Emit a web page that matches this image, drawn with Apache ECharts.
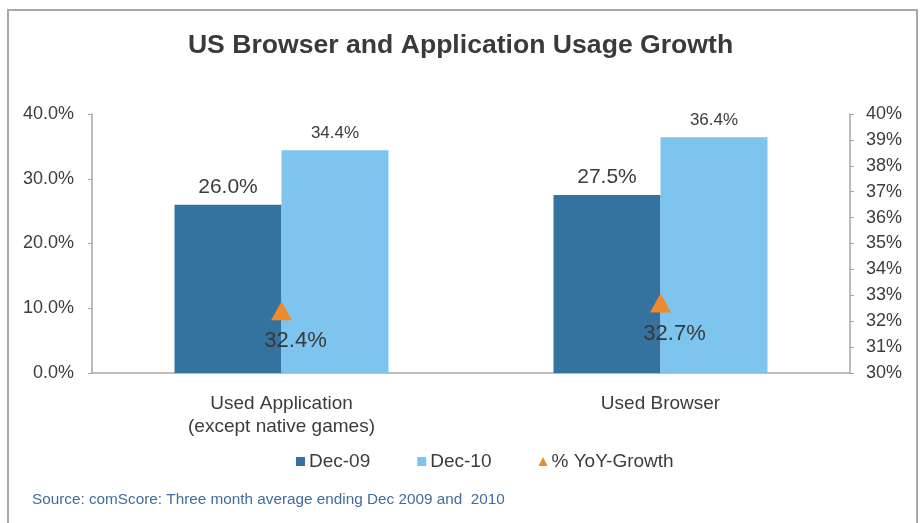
<!DOCTYPE html>
<html>
<head>
<meta charset="utf-8">
<script src="https://cdn.jsdelivr.net/npm/echarts@6/dist/echarts.min.js"></script>
<style>
  html, body { margin: 0; padding: 0; background: #ffffff; }
  #chart { width: 921px; height: 523px; }
</style>
</head>
<body>
<div id="chart"></div>
<script>
// Usage categories and survey values (percent)
const categories = ['Used Application\n(except native games)', 'Used Browser'];
const dec09 = [26.0, 27.5];
const dec10 = [34.4, 36.4];
const yoyGrowth = [32.4, 32.7];

const leftTicks = { min: 0, max: 40, interval: 10 };
const rightTicks = { min: 30, max: 40, interval: 1 };

const FONT = '"Liberation Sans", Arial, sans-serif';
const AXIS_GRAY = '#a6a6a6';
const TEXT = '#3c3c3c';

const chart = echarts.init(document.getElementById('chart'), null, { renderer: 'canvas' });

chart.setOption({
  animation: false,
  backgroundColor: '#ffffff',
  textStyle: { fontFamily: FONT },
  title: {
    text: 'US Browser and Application Usage Growth',
    left: 'center',
    top: 27,
    textStyle: { fontFamily: FONT, fontSize: 26.6, fontWeight: 'bold', color: '#3a3a3a' }
  },
  graphic: [
    {
      type: 'rect',
      shape: { x: 8, y: 10, width: 909, height: 530 },
      style: { fill: 'none', stroke: '#a8a8a8', lineWidth: 2 },
      silent: true
    },
    {
      type: 'text',
      left: 32,
      top: 492,
      style: {
        text: 'Source: comScore: Three month average ending Dec 2009 and  2010',
        font: '15.3px ' + FONT,
        fill: '#3f6d9c'
      }
    }
  ],
  legend: {
    left: 291,
    top: 447,
    itemWidth: 9,
    itemHeight: 9,
    itemGap: 47,
    textStyle: { fontFamily: FONT, fontSize: 19, color: TEXT, padding: [0, 0, 0, -1] },
    data: [
      { name: 'Dec-09', icon: 'rect' },
      { name: 'Dec-10', icon: 'rect' },
      { name: '% YoY-Growth', icon: 'triangle' }
    ]
  },
  grid: { left: 92, right: 71, top: 114, bottom: 150, containLabel: false },
  xAxis: {
    type: 'category',
    data: categories,
    axisLine: { lineStyle: { color: AXIS_GRAY, width: 1.5 } },
    axisTick: { show: false },
    axisLabel: {
      margin: 19,
      fontFamily: FONT,
      fontSize: 19,
      lineHeight: 23,
      color: TEXT
    }
  },
  yAxis: [
    {
      type: 'value',
      min: leftTicks.min,
      max: leftTicks.max,
      interval: leftTicks.interval,
      splitLine: { show: false },
      axisLine: { show: true, lineStyle: { color: AXIS_GRAY, width: 1.5 } },
      axisTick: { show: true, length: 4, lineStyle: { color: AXIS_GRAY } },
      axisLabel: {
        margin: 18,
        fontFamily: FONT,
        fontSize: 18,
        color: TEXT,
        formatter: v => v.toFixed(1) + '%'
      }
    },
    {
      type: 'value',
      position: 'right',
      min: rightTicks.min,
      max: rightTicks.max,
      interval: rightTicks.interval,
      splitLine: { show: false },
      axisLine: { show: true, lineStyle: { color: AXIS_GRAY, width: 1.5 } },
      axisTick: { show: true, length: 4, lineStyle: { color: AXIS_GRAY } },
      axisLabel: {
        margin: 16,
        fontFamily: FONT,
        fontSize: 18,
        color: TEXT,
        formatter: v => v + '%'
      }
    }
  ],
  series: [
    {
      name: 'Dec-09',
      type: 'bar',
      yAxisIndex: 0,
      data: dec09,
      barWidth: 107,
      barGap: '0%',
      itemStyle: { color: '#34739f' },
      label: {
        show: true,
        position: 'top',
        distance: 7,
        fontFamily: FONT,
        fontSize: 21,
        color: TEXT,
        formatter: p => p.value.toFixed(1) + '%'
      }
    },
    {
      name: 'Dec-10',
      type: 'bar',
      yAxisIndex: 0,
      data: dec10,
      barWidth: 107,
      barGap: '0%',
      itemStyle: { color: '#7dc4ee' },
      label: {
        show: true,
        position: 'top',
        distance: 8,
        fontFamily: FONT,
        fontSize: 17,
        color: TEXT,
        formatter: p => p.value.toFixed(1) + '%'
      }
    },
    {
      name: '% YoY-Growth',
      type: 'scatter',
      yAxisIndex: 1,
      data: yoyGrowth,
      symbol: 'triangle',
      symbolSize: [21, 19],
      itemStyle: { color: '#f0892a', opacity: 1 },
      z: 5,
      label: {
        show: true,
        position: 'bottom',
        distance: 10,
        offset: [14, 0],
        fontFamily: FONT,
        fontSize: 22,
        color: '#383838',
        formatter: p => p.value.toFixed(1) + '%'
      }
    }
  ]
});
</script>
</body>
</html>
